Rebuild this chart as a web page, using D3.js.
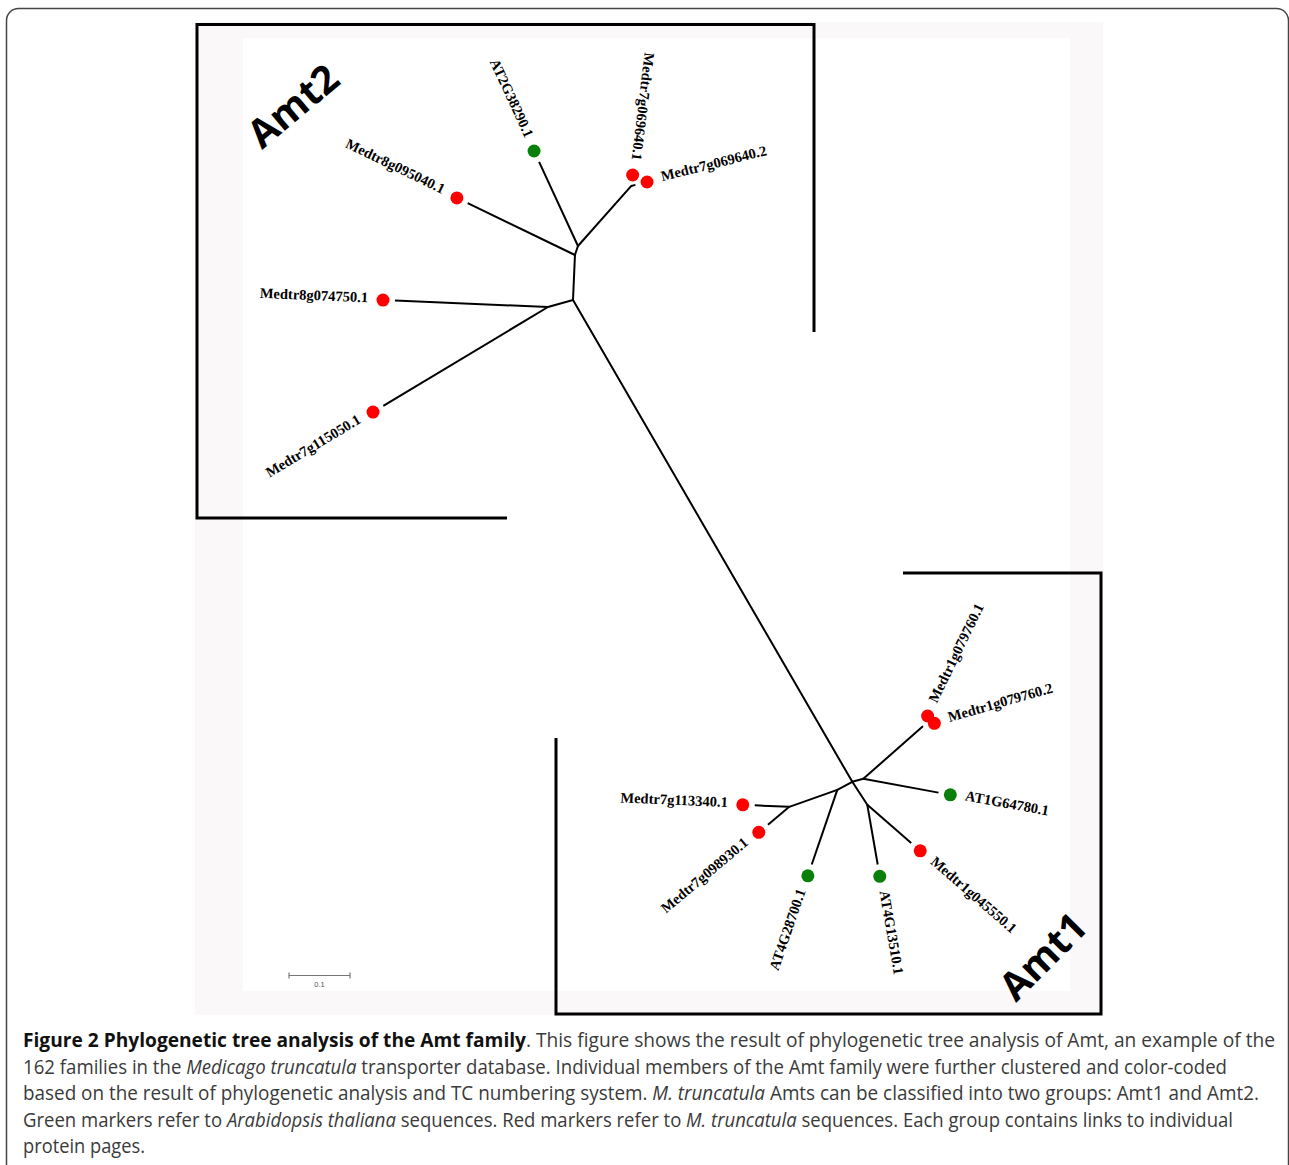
<!DOCTYPE html>
<html>
<head>
<meta charset="utf-8">
<script src="https://cdn.jsdelivr.net/npm/d3@7"></script>
<style>
  body { margin: 0; background: #fff; }
  svg { display: block; }
</style>
</head>
<body>
<script>
// inner nodes of the unrooted tree: parent, branch length (subst./site), direction (deg, screen)
var innerNodes   = ["A", "B", "C", "K", "D", "E", "G", "L", "H", "I", "J"];
var innerParents = [null, "A", "B", "C", "A", "A", "E", "G", "E", "H", "E"];
var innerLengths = [0, 0.0738, 0.0156, 0.1317, 0.0426, 0.913, 0.0187, 0.129, 0.0279, 0.0835, 0.045];
var innerAngles  = [0, -87.5, -71.6, -48.4, 164.4, 59.9, -15.3, -41.4, 151.9, 160.5, 56.9];

// leaves
var leafNames = ["AT2G38290.1", "Medtr7g069640.1", "Medtr7g069640.2", "Medtr8g095040.1",
                 "Medtr8g074750.1", "Medtr7g115050.1", "Medtr1g079760.1", "Medtr1g079760.2",
                 "AT1G64780.1", "AT4G28700.1", "Medtr7g113340.1", "Medtr7g098930.1",
                 "AT4G13510.1", "Medtr1g045550.1"];
var leafParents = ["C", "K", "K", "B", "D", "D", "L", "L", "G", "H", "I", "I", "J", "J"];
var leafLengths = [0.1716, 0.018, 0.0266, 0.215, 0.2707, 0.3346, 0.0197, 0.0205,
                   0.145, 0.149, 0.0763, 0.0652, 0.119, 0.115];
var leafAngles  = [-114.8, -83, -14, -154.2, -177.6, 149.0, -64, -16,
                   10.4, 108.9, -177.5, 140.1, 80.1, 41];
var leafSpecies = ["At", "Mt", "Mt", "Mt", "Mt", "Mt", "Mt", "Mt",
                   "At", "At", "Mt", "Mt", "At", "Mt"];

var scaleBarValue = 0.1;
var scaleBarLabel = "0.1";

var captionLines = [
  [["b", "Figure 2 Phylogenetic tree analysis of the Amt family"], ["r", ". This figure shows the result of phylogenetic tree analysis of Amt, an example of the"]],
  [["r", "162 families in the "], ["i", "Medicago truncatula"], ["r", " transporter database. Individual members of the Amt family were further clustered and color-coded"]],
  [["r", "based on the result of phylogenetic analysis and TC numbering system. "], ["i", "M. truncatula"], ["r", " Amts can be classified into two groups: Amt1 and Amt2."]],
  [["r", "Green markers refer to "], ["i", "Arabidopsis thaliana"], ["r", " sequences. Red markers refer to "], ["i", "M. truncatula"], ["r", " sequences. Each group contains links to individual"]],
  [["r", "protein pages."]]
];
var captionLineEnds = [1275, 1227, 1259, 1233, 145];

var speciesColor = { At: "#0a800a", Mt: "#ff0000" };

var W = 1289, H = 1165;
var svg = d3.select("body").append("svg").attr("width", W).attr("height", H);

// page frame
svg.append("rect").attr("x", 6.5).attr("y", 8.5).attr("width", 1282).attr("height", 1200)
  .attr("rx", 12).attr("fill", "none").attr("stroke", "#444").attr("stroke-width", 1.5);

// figure panels
svg.append("rect").attr("x", 195).attr("y", 22).attr("width", 908).attr("height", 993).attr("fill", "#faf8f8");
svg.append("rect").attr("x", 243).attr("y", 38).attr("width", 827).attr("height", 953).attr("fill", "#fff");

// tree scales: tree units -> pixels (0.1 = 61px)
var x = d3.scaleLinear().domain([0, 0.1]).range([573, 634]);
var y = d3.scaleLinear().domain([0, 0.1]).range([300, 361]);

var pos = {};
innerNodes.forEach(function(id, i) {
  var p = innerParents[i];
  var base = p ? pos[p] : { u: 0, v: 0 };
  var a = innerAngles[i] * Math.PI / 180;
  pos[id] = { u: base.u + innerLengths[i] * Math.cos(a), v: base.v + innerLengths[i] * Math.sin(a) };
});

var leaves = leafNames.map(function(name, i) {
  var base = pos[leafParents[i]];
  var a = leafAngles[i] * Math.PI / 180;
  return {
    name: name, parent: base, angle: leafAngles[i], species: leafSpecies[i],
    u: base.u + leafLengths[i] * Math.cos(a), v: base.v + leafLengths[i] * Math.sin(a)
  };
});

var g = svg.append("g");

// internal branches
var innerEdges = innerNodes.map(function(id, i) { return { s: innerParents[i], t: id }; })
  .filter(function(d) { return d.s; });

g.selectAll("line.inner").data(innerEdges).enter().append("line")
  .attr("class", "inner")
  .attr("x1", function(d) { return x(pos[d.s].u); })
  .attr("y1", function(d) { return y(pos[d.s].v); })
  .attr("x2", function(d) { return x(pos[d.t].u); })
  .attr("y2", function(d) { return y(pos[d.t].v); })
  .attr("stroke", "#000").attr("stroke-width", 2).attr("stroke-linecap", "round");

// leaf branches stop short of the marker
var gap = 12;
var leafEdges = leaves.filter(function(d) {
  var dx = x(d.u) - x(d.parent.u), dy = y(d.v) - y(d.parent.v);
  return Math.sqrt(dx * dx + dy * dy) > gap;
});
g.selectAll("line.leaf").data(leafEdges).enter().append("line")
  .attr("class", "leaf")
  .attr("x1", function(d) { return x(d.parent.u); })
  .attr("y1", function(d) { return y(d.parent.v); })
  .attr("x2", function(d) { return x(d.u) - gap * Math.cos(d.angle * Math.PI / 180); })
  .attr("y2", function(d) { return y(d.v) - gap * Math.sin(d.angle * Math.PI / 180); })
  .attr("stroke", "#000").attr("stroke-width", 2);

// markers
g.selectAll("circle").data(leaves).enter().append("circle")
  .attr("cx", function(d) { return x(d.u); })
  .attr("cy", function(d) { return y(d.v); })
  .attr("r", 6.5)
  .attr("fill", function(d) { return speciesColor[d.species]; });

// labels, flipped on the left side so they stay readable
var labOff = 15;
function flipped(d) { return Math.cos((d.angle - 10) * Math.PI / 180) < 0; }
g.selectAll("text.leaf").data(leaves).enter().append("text")
  .attr("class", "leaf")
  .attr("transform", function(d) {
    var a = d.angle * Math.PI / 180;
    var lx = x(d.u) + labOff * Math.cos(a), ly = y(d.v) + labOff * Math.sin(a);
    return "translate(" + lx + "," + ly + ") rotate(" + (flipped(d) ? d.angle + 180 : d.angle) + ")";
  })
  .attr("text-anchor", function(d) { return flipped(d) ? "end" : "start"; })
  .attr("dy", "0.2em")
  .style("font-family", "'Liberation Serif', 'Times New Roman', serif")
  .style("font-weight", "bold")
  .style("font-size", "14.5px")
  .text(function(d) { return d.name; });

// scale bar
var bx0 = x.invert(289), by = y.invert(975.5);
var sb = svg.append("g").attr("stroke", "#777").attr("stroke-width", 1.2);
sb.append("line").attr("x1", x(bx0)).attr("x2", x(bx0 + scaleBarValue)).attr("y1", y(by)).attr("y2", y(by));
sb.append("line").attr("x1", x(bx0)).attr("x2", x(bx0)).attr("y1", y(by) - 3).attr("y2", y(by) + 3);
sb.append("line").attr("x1", x(bx0 + scaleBarValue)).attr("x2", x(bx0 + scaleBarValue)).attr("y1", y(by) - 3).attr("y2", y(by) + 3);
svg.append("text").attr("x", (x(bx0) + x(bx0 + scaleBarValue)) / 2).attr("y", y(by) + 11)
  .attr("text-anchor", "middle").style("font-family", "'Liberation Sans', Arial, sans-serif")
  .style("font-size", "7.5px").attr("fill", "#555").text(scaleBarLabel);

// group brackets
var br = svg.append("g").attr("fill", "none").attr("stroke", "#000").attr("stroke-width", 3)
  .attr("stroke-linejoin", "miter");
br.append("path").attr("d", "M507,518H197V24.5H814V332");
br.append("path").attr("d", "M903,573H1101V1014H556V738");

svg.append("text").attr("transform", "translate(262,150) rotate(-40)")
  .style("font-family", "'Open Sans', sans-serif").style("font-weight", "bold")
  .style("font-size", "39px").text("Amt2");
svg.append("text").attr("transform", "translate(1016,1003) rotate(-45)")
  .style("font-family", "'Open Sans', sans-serif").style("font-weight", "bold")
  .style("font-size", "39px").text("Amt1");

// caption
var cap = svg.append("g").style("font-family", "'Open Sans', sans-serif");
var capTexts = captionLines.map(function(line, i) {
  var t = cap.append("text").attr("x", 23).attr("y", 1047 + i * 26.5).style("font-size", "18px");
  line.forEach(function(seg) {
    t.append("tspan").text(seg[1])
      .style("font-weight", seg[0] === "b" ? "bold" : "normal")
      .style("font-style", seg[0] === "i" ? "italic" : "normal")
      .attr("fill", seg[0] === "b" ? "#111" : "#3a3a3a");
  });
  return t;
});
var w0 = capTexts[0].node().getComputedTextLength();
var fs = 18 * 1252 / w0;
capTexts.forEach(function(t, i) {
  t.style("font-size", fs + "px")
    .attr("textLength", captionLineEnds[i] - 23)
    .attr("lengthAdjust", "spacingAndGlyphs");
});
</script>
</body>
</html>
